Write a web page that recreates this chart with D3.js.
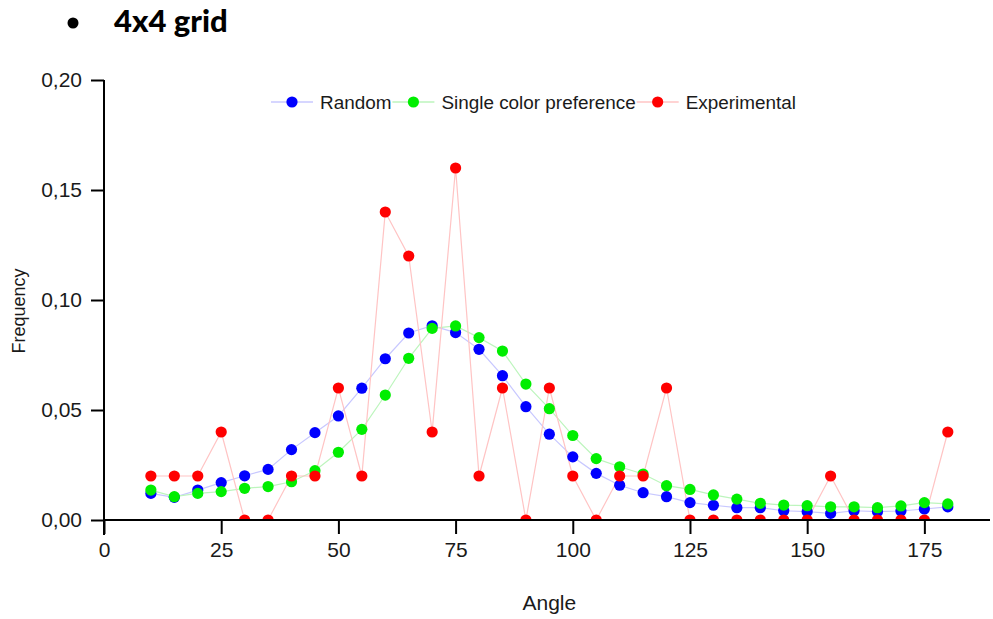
<!DOCTYPE html>
<html>
<head>
<meta charset="utf-8">
<script src="https://cdn.jsdelivr.net/npm/d3@7"></script>
<style>
  html, body { margin: 0; padding: 0; background: #fff; }
  svg { display: block; }
  text { font-family: "Liberation Sans", Arial, sans-serif; fill: #1a1a1a; }
</style>
</head>
<body>
<svg id="chart" width="993" height="619"></svg>
<script>
// Angle bins (degrees)
const angles = [10, 15, 20, 25, 30, 35, 40, 45, 50, 55, 60, 65, 70, 75, 80, 85, 90, 95,
  100, 105, 110, 115, 120, 125, 130, 135, 140, 145, 150, 155, 160, 165, 170, 175, 180];

// Frequency per angle bin
const randomFreq = [0.0121, 0.0103, 0.0136, 0.017, 0.0201, 0.023, 0.032, 0.0397, 0.0473, 0.0599,
  0.0733, 0.085, 0.0883, 0.0852, 0.0776, 0.0656, 0.0515, 0.039, 0.0287, 0.0212,
  0.0158, 0.0124, 0.0106, 0.0079, 0.0067, 0.0056, 0.0056, 0.0042, 0.0038, 0.003,
  0.0042, 0.0038, 0.0041, 0.005, 0.006];
const singleColorFreq = [0.0136, 0.0106, 0.0121, 0.0129, 0.0144, 0.0152, 0.0174, 0.0224, 0.0308, 0.0412,
  0.0568, 0.0735, 0.0871, 0.0882, 0.0829, 0.0768, 0.0618, 0.0506, 0.0384, 0.0279,
  0.0242, 0.0209, 0.0156, 0.0139, 0.0114, 0.0095, 0.0076, 0.0068, 0.0065, 0.006,
  0.006, 0.0056, 0.0064, 0.0079, 0.0073];
const experimentalFreq = [0.02, 0.02, 0.02, 0.04, 0, 0, 0.02, 0.02, 0.06, 0.02,
  0.14, 0.12, 0.04, 0.16, 0.02, 0.06, 0, 0.06, 0.02, 0,
  0.02, 0.02, 0.06, 0, 0, 0, 0, 0, 0, 0.02,
  0, 0, 0, 0, 0.04];

const seriesNames = ["Random", "Single color preference", "Experimental"];
const xTicks = [0, 25, 50, 75, 100, 125, 150, 175];
const yTicks = [0, 0.05, 0.10, 0.15, 0.20];

const series = [
  { name: seriesNames[0], values: randomFreq, dot: "#0000ff", line: "#c8c8ff" },
  { name: seriesNames[1], values: singleColorFreq, dot: "#00ee00", line: "#bdf5bd" },
  { name: seriesNames[2], values: experimentalFreq, dot: "#ff0000", line: "#ffc4c4" }
];

const svg = d3.select("#chart");
const plotLeft = 104, plotRight = 990, plotTop = 80, plotBottom = 520;

const x = d3.scaleLinear().domain([0, 189]).range([plotLeft, plotRight]);
const y = d3.scaleLinear().domain([0, 0.20]).range([plotBottom, plotTop]);

// Title with bullet
svg.append("circle").attr("cx", 73).attr("cy", 23).attr("r", 5.5).attr("fill", "#000");
svg.append("text").attr("x", 114).attr("y", 32)
  .style("font-family", "Lato, 'DejaVu Sans', sans-serif")
  .style("font-weight", 900).style("font-size", "31px").style("fill", "#000")
  .text("4x4 grid");

// Plot area clip: markers sitting on zero are cut by the axis
svg.append("defs").append("clipPath").attr("id", "plotClip")
  .append("rect").attr("x", plotLeft - 10).attr("y", plotTop - 20)
  .attr("width", plotRight - plotLeft + 20).attr("height", plotBottom - plotTop + 20);

const plot = svg.append("g").attr("clip-path", "url(#plotClip)");
const line = d3.line().x((d, i) => x(angles[i])).y(d => y(d));

series.forEach(s => {
  plot.append("path").datum(s.values)
    .attr("d", line).attr("fill", "none")
    .attr("stroke", s.line).attr("stroke-width", 1.2);
});
series.forEach(s => {
  plot.append("g").selectAll("circle").data(s.values).join("circle")
    .attr("cx", (d, i) => x(angles[i])).attr("cy", d => y(d))
    .attr("r", 5.6).attr("fill", s.dot);
});

// Axes
const fmt = d => d3.format(".2f")(d).replace(".", ",");
const yAxis = svg.append("g").attr("transform", `translate(${plotLeft},0)`)
  .call(d3.axisLeft(y).tickValues(yTicks).tickFormat(fmt).tickSize(13).tickPadding(9).tickSizeOuter(0));
yAxis.select(".domain").remove();
yAxis.append("line").attr("x1", 0).attr("x2", 0).attr("y1", plotTop).attr("y2", plotBottom + 15)
  .attr("stroke", "#000").attr("stroke-width", 2);

const xAxis = svg.append("g").attr("transform", `translate(0,${plotBottom})`)
  .call(d3.axisBottom(x).tickValues(xTicks).tickFormat(d3.format("d")).tickSize(14).tickPadding(8).tickSizeOuter(0));
xAxis.select(".domain").remove();
xAxis.append("line").attr("x1", plotLeft).attr("x2", plotRight).attr("y1", 0).attr("y2", 0)
  .attr("stroke", "#000").attr("stroke-width", 2);

[yAxis, xAxis].forEach(a => {
  a.selectAll(".tick line").attr("stroke", "#000").attr("stroke-width", 2);
  a.selectAll(".tick text").style("font-family", "'Liberation Sans', Arial, sans-serif")
    .style("font-size", "21px").attr("fill", "#1a1a1a");
});

// Axis titles
svg.append("text").attr("x", x(95)).attr("y", 610).attr("text-anchor", "middle")
  .style("font-size", "21px").text("Angle");
svg.append("text").attr("transform", "translate(25,311) rotate(-90)")
  .attr("text-anchor", "middle").style("font-size", "18px").text("Frequency");

// Legend
const legend = svg.append("g");
let lx = 271;
const ly = 102;
series.forEach(s => {
  legend.append("line").attr("x1", lx).attr("x2", lx + 42).attr("y1", ly).attr("y2", ly)
    .attr("stroke", s.line).attr("stroke-width", 1.5);
  legend.append("circle").attr("cx", lx + 21).attr("cy", ly).attr("r", 5.6).attr("fill", s.dot);
  const t = legend.append("text").attr("x", lx + 49).attr("y", ly + 7)
    .style("font-size", "18.9px").text(s.name);
  lx += 49 + t.node().getComputedTextLength() + 1;
});
</script>
</body>
</html>
